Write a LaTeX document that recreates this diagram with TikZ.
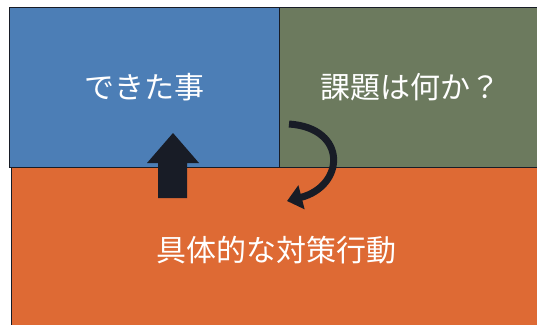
\documentclass[tikz,border=0pt]{standalone}
\usepackage{fontspec}
\setmainfont{Noto Sans CJK JP}
\usetikzlibrary{arrows.meta}

\definecolor{doneblue}{RGB}{76,126,182}
\definecolor{issuegreen}{RGB}{108,122,94}
\definecolor{actorange}{RGB}{222,106,52}
\definecolor{inkdark}{RGB}{24,28,38}

\tikzset{
  panel/.style={draw=inkdark,line width=1.2pt,anchor=north west,inner sep=0pt,
    text=white,font=\fontsize{30}{30}\selectfont},
  bigarrow/.style={fill=inkdark},
}

\begin{document}
\begin{tikzpicture}[x=1pt,y=1pt]
  \useasboundingbox[fill=white] (0,0) rectangle (537,-324);
  \node[panel,fill=actorange,minimum width=530pt,minimum height=166pt] (act) at (11,-167) {具体的な対策行動};
  \node[panel,fill=doneblue,minimum width=270pt,minimum height=160pt] (done) at (9,-7) {できた事};
  \node[panel,fill=issuegreen,minimum width=262pt,minimum height=160pt] (issue) at (279,-7) {課題は何か？};
  % up arrow from action to done
  \coordinate (upTip) at (173,-133);
  \fill[bigarrow] (upTip) -- ++(26,-30) -- ++(-12,0) -- ++(0,-35) -- ++(-29,0)
    -- ++(0,35) -- ++(-11,0) -- cycle;
  % curved arrow from issue to action
  \coordinate (turnA) at (289,-124);
  \coordinate (turnB) at (287,-201);
  \draw[inkdark,line width=7pt,-{Triangle[width=24pt,length=15pt]}]
    (turnA) .. controls (348,-128) and (345,-186) .. (turnB);
\end{tikzpicture}
\end{document}
